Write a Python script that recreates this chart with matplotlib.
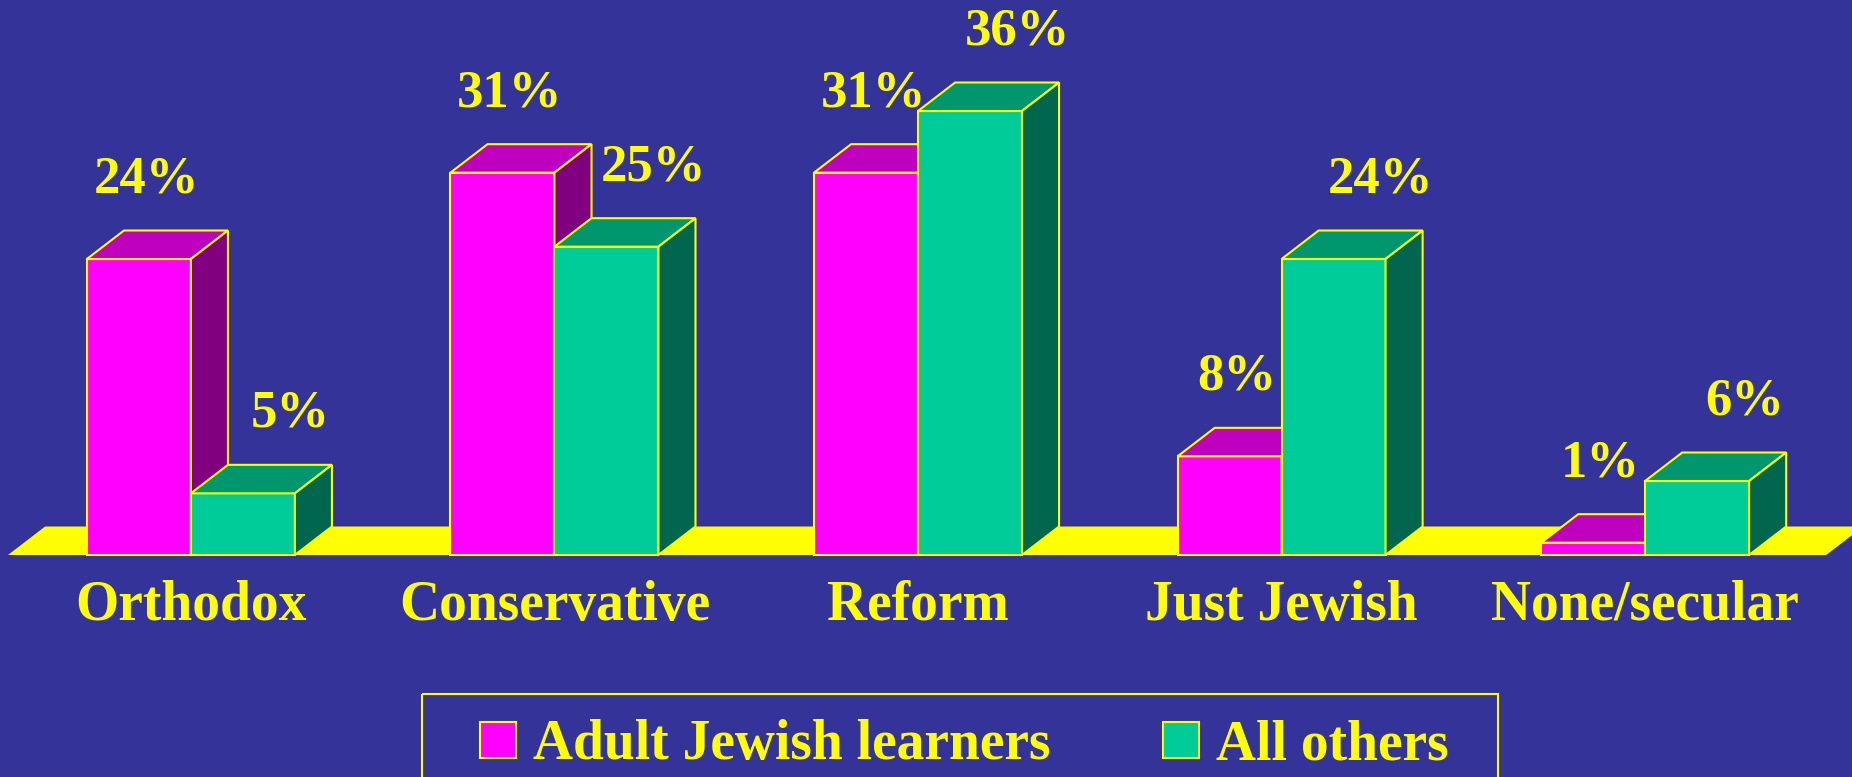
import matplotlib.pyplot as plt
from matplotlib.patches import Polygon, Rectangle

categories = ["Orthodox", "Conservative", "Reform", "Just Jewish", "None/secular"]
learners = [24, 31, 31, 8, 1]
others = [5, 25, 36, 24, 6]
series_names = ["Adult Jewish learners", "All others"]

BG = "#333399"
EDGE = "#FFFF00"
# front / top / side shades of each box
PINK = ("#FF00FF", "#BF00BF", "#800080")
GREEN = ("#00CC99", "#00966E", "#00664D")

W = 0.286            # bar width (category units)
DX, DY = 0.102, 2.31  # 3d depth offset: x in categories, y in percent
LW = 1.5

plt.rcParams["font.family"] = ["Liberation Serif", "DejaVu Serif"]
plt.rcParams["font.weight"] = "bold"

fig = plt.figure(figsize=(18.52, 7.77), dpi=100, facecolor=BG)
ax = fig.add_axes([0, 0, 1, 1])
ax.set_facecolor(BG)
ax.set_xlim(-0.525, 4.569)
ax.set_ylim(-18.0, 45.0)
ax.axis("off")


def box(x0, h, shades):
    front, top, side = shades
    kw = dict(edgecolor=EDGE, linewidth=LW, joinstyle="miter")
    ax.add_patch(Polygon([(x0, 0), (x0 + W, 0), (x0 + W, h), (x0, h)],
                         facecolor=front, **kw))
    ax.add_patch(Polygon([(x0, h), (x0 + DX, h + DY), (x0 + W + DX, h + DY), (x0 + W, h)],
                         facecolor=top, **kw))
    ax.add_patch(Polygon([(x0 + W, 0), (x0 + W + DX, DY), (x0 + W + DX, h + DY), (x0 + W, h)],
                         facecolor=side, **kw))


# yellow floor
n = len(categories)
fx0, fx1 = -0.503, n - 0.502
ax.add_patch(Polygon([(fx0, 0), (fx1, 0), (fx1 + DX, DY), (fx0 + DX, DY)],
                     facecolor=EDGE, edgecolor="none"))

for i, (a, b) in enumerate(zip(learners, others)):
    box(i - W, a, PINK)
    box(i, b, GREEN)
    ax.text(i - W / 2 + 0.02, a + 5.4, f"{a}%", ha="center", va="baseline",
            fontsize=38, color=EDGE, fontweight="bold")
    ax.text(i + W / 2 + 0.13, b + 5.4, f"{b}%", ha="center", va="baseline",
            fontsize=38, color=EDGE, fontweight="bold")
    ax.text(i, -5.27, categories[i], ha="center", va="baseline",
            fontsize=40, color=EDGE, fontweight="bold")

# legend, laid out in pixel units
lg = fig.add_axes([0, 0, 1, 1])
lg.set_xlim(0, 1852)
lg.set_ylim(777, 0)
lg.axis("off")
lg.patch.set_alpha(0)
lg.add_patch(Rectangle((422, 694), 1076, 120, facecolor="none", edgecolor=EDGE, linewidth=LW))
for name, col, sx in zip(series_names, [PINK[0], GREEN[0]], [480, 1163]):
    lg.add_patch(Rectangle((sx, 722), 36, 36, facecolor=col, edgecolor=EDGE, linewidth=LW))
    lg.text(sx + 53, 759, name, ha="left", va="baseline", fontsize=40,
            color=EDGE, fontweight="bold")

fig.savefig("out.png", dpi=100, facecolor=BG)
